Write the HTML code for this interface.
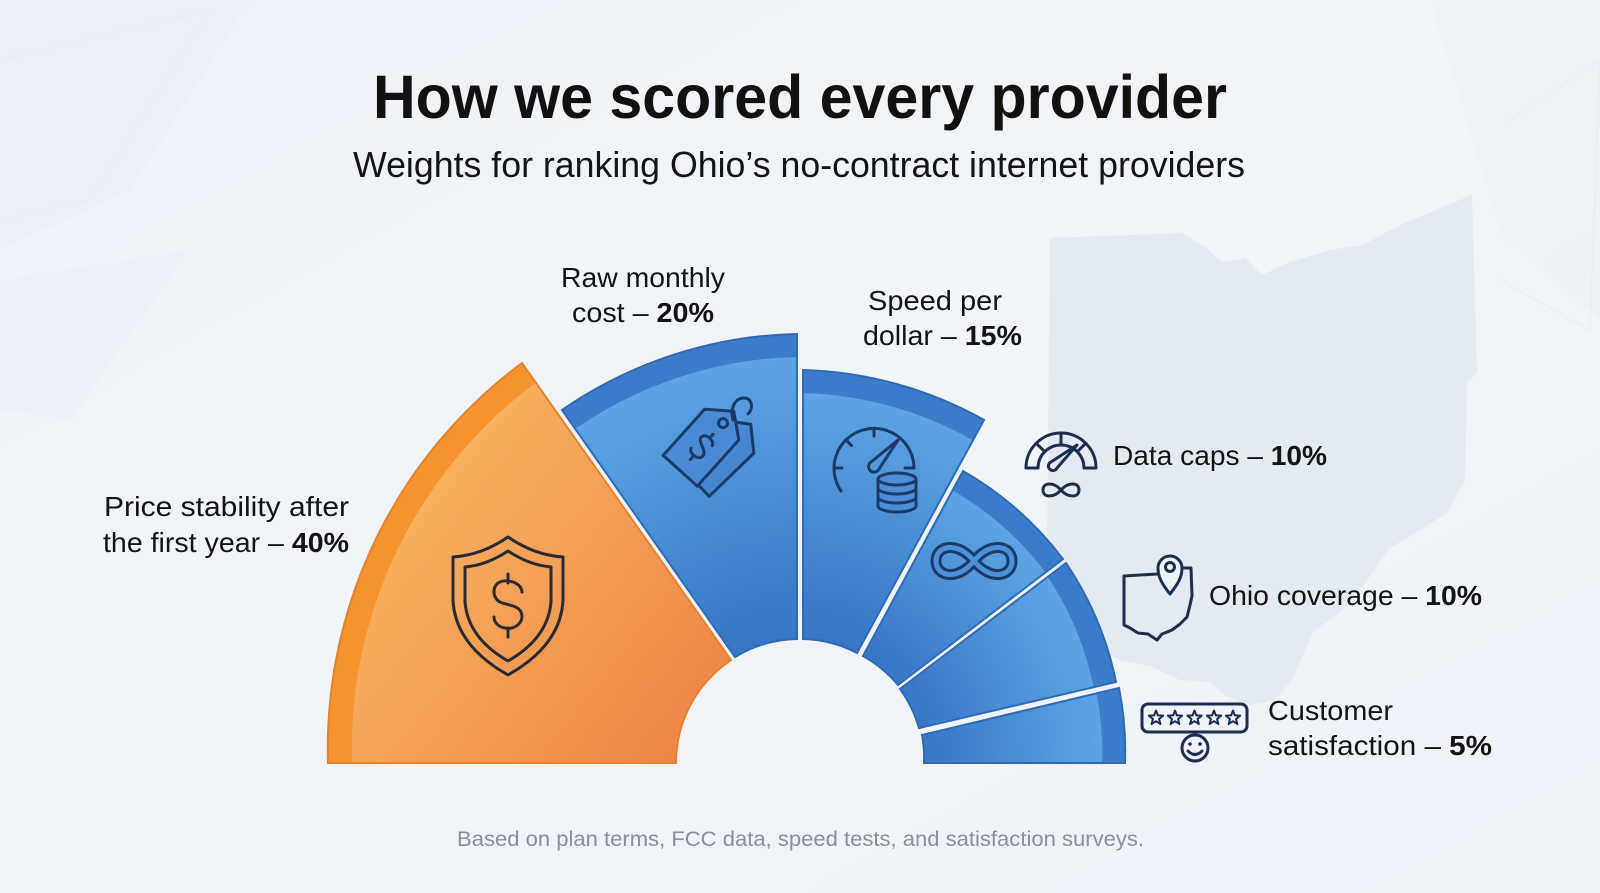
<!DOCTYPE html>
<html>
<head>
<meta charset="utf-8">
<style>
html,body{margin:0;padding:0;background:#eff3f8;width:1600px;height:893px;overflow:hidden;}
svg{display:block}
text{font-family:"Liberation Sans",Arial,sans-serif;}
</style>
</head>
<body>
<svg width="1600" height="893" viewBox="0 0 1600 893" xmlns="http://www.w3.org/2000/svg">
<defs>
  <linearGradient id="bg" x1="0" y1="0" x2="1" y2="1">
    <stop offset="0" stop-color="#eef2f7"/>
    <stop offset="0.5" stop-color="#f1f4f9"/>
    <stop offset="1" stop-color="#eef2f7"/>
  </linearGradient>
  <linearGradient id="og" x1="0.1" y1="0.2" x2="1" y2="0.9">
    <stop offset="0" stop-color="#f8ba63"/>
    <stop offset="1" stop-color="#ee8346"/>
  </linearGradient>
  <radialGradient id="b1" gradientUnits="userSpaceOnUse" cx="800" cy="763" r="406">
    <stop offset="0.3" stop-color="#3676c4"/>
    <stop offset="1" stop-color="#5ca4e4"/>
  </radialGradient>
  <radialGradient id="b2" gradientUnits="userSpaceOnUse" cx="800" cy="763" r="369">
    <stop offset="0.33" stop-color="#3676c4"/>
    <stop offset="1" stop-color="#5ca4e4"/>
  </radialGradient>
  <radialGradient id="b3" gradientUnits="userSpaceOnUse" cx="800" cy="763" r="311">
    <stop offset="0.4" stop-color="#3777c5"/>
    <stop offset="1" stop-color="#5ca4e4"/>
  </radialGradient>
  <radialGradient id="b4" gradientUnits="userSpaceOnUse" cx="800" cy="763" r="305">
    <stop offset="0.4" stop-color="#3777c5"/>
    <stop offset="1" stop-color="#5ca4e4"/>
  </radialGradient>
  <path id="p1" d="M328 763 A480 480 0 0 1 522 363 L731 660 A124 124 0 0 0 676 763 Z"/>
  <path id="p2" d="M562 410 A429 429 0 0 1 797 334 L797 639 A124 124 0 0 0 735 657 Z"/>
  <path id="p3" d="M803 370 A392 392 0 0 1 984 420 L857 653 A124 124 0 0 0 803 639 Z"/>
  <path id="p4" d="M963 471 A334 334 0 0 1 1063 559 L898 685 A124 124 0 0 0 863 656 Z"/>
  <path id="p5" d="M1066 563 A330 330 0 0 1 1116 682 L919 728 A124 124 0 0 0 900 689 Z"/>
  <path id="p6" d="M1119 688 A326 326 0 0 1 1125 763 L924 763 A124 124 0 0 0 922 735 Z"/>
  <clipPath id="c1"><use href="#p1"/></clipPath>
  <clipPath id="c2"><use href="#p2"/></clipPath>
  <clipPath id="c3"><use href="#p3"/></clipPath>
  <clipPath id="c4"><use href="#p4"/></clipPath>
  <clipPath id="c5"><use href="#p5"/></clipPath>
  <clipPath id="c6"><use href="#p6"/></clipPath>
</defs>

<!-- background -->
<rect x="0" y="0" width="1600" height="893" fill="url(#bg)"/>
<polygon points="0,0 250,0 130,190 0,250" fill="#e8edf4" opacity="0.35"/>
<polygon points="0,280 190,250 70,420 0,410" fill="#e8edf4" opacity="0.3"/>
<polyline points="0,60 210,10 90,200 0,220" fill="none" stroke="#e0e6ee" stroke-width="1.2" opacity="0.45"/>
<polygon points="1430,0 1600,0 1600,320 1500,230" fill="#e8edf4" opacity="0.35"/>
<polyline points="1510,120 1600,60 1590,330 1500,280" fill="none" stroke="#dfe5ee" stroke-width="1.2" opacity="0.45"/>

<!-- Ohio silhouette -->
<polygon fill="#e2e8f1" opacity="0.85" points="1050,238 1182,233 1205,247 1222,262 1245,258 1262,275 1290,262 1330,250 1363,245 1400,225 1472,195 1477,373 1467,382 1465,480 1447,513 1420,530 1390,548 1360,590 1340,612 1313,632 1292,680 1275,700 1250,705 1226,696 1210,682 1180,680 1150,666 1120,660 1098,650 1070,612 1047,563"/>

<!-- title -->
<text x="373" y="118" font-size="61" font-weight="700" fill="#111" textLength="854" lengthAdjust="spacingAndGlyphs">How we scored every provider</text>
<text x="353" y="177" font-size="36" fill="#151515" textLength="892" lengthAdjust="spacingAndGlyphs">Weights for ranking Ohio’s no-contract internet providers</text>

<!-- segment 1 orange -->
<use href="#p1" fill="url(#og)"/>
<path d="M328 763 A480 480 0 0 1 522 363" fill="none" stroke="#f5942e" stroke-width="48" stroke-linecap="square" clip-path="url(#c1)"/>
<use href="#p1" fill="none" stroke="#e5822b" stroke-width="2"/>

<!-- segment 2 -->
<use href="#p2" fill="url(#b1)"/>
<path d="M562 410 A429 429 0 0 1 797 334" fill="none" stroke="#3b7dca" stroke-width="46" stroke-linecap="square" clip-path="url(#c2)"/>
<use href="#p2" fill="none" stroke="#2e6bb6" stroke-width="2"/>

<!-- segment 3 -->
<use href="#p3" fill="url(#b2)"/>
<path d="M803 370 A392 392 0 0 1 984 420" fill="none" stroke="#3b7dca" stroke-width="46" stroke-linecap="square" clip-path="url(#c3)"/>
<use href="#p3" fill="none" stroke="#2e6bb6" stroke-width="2"/>

<!-- segment 4 -->
<use href="#p4" fill="url(#b3)"/>
<path d="M963 471 A334 334 0 0 1 1063 559" fill="none" stroke="#3b7dca" stroke-width="44" stroke-linecap="square" clip-path="url(#c4)"/>
<use href="#p4" fill="none" stroke="#2e6bb6" stroke-width="2"/>

<!-- segment 5 -->
<use href="#p5" fill="url(#b4)"/>
<path d="M1066 563 A330 330 0 0 1 1116 682" fill="none" stroke="#3b7dca" stroke-width="46" stroke-linecap="square" clip-path="url(#c5)"/>
<use href="#p5" fill="none" stroke="#2e6bb6" stroke-width="2"/>

<!-- segment 6 -->
<use href="#p6" fill="url(#b4)"/>
<path d="M1119 688 A326 326 0 0 1 1125 763" fill="none" stroke="#3b7dca" stroke-width="46" stroke-linecap="square" clip-path="url(#c6)"/>
<use href="#p6" fill="none" stroke="#2e6bb6" stroke-width="2"/>

<!-- shield icon -->
<g fill="none" stroke="#2a2a32" stroke-width="3" stroke-linejoin="round" stroke-linecap="round">
  <path d="M508 537 Q482 555 453 557 L453 600 Q455 645 508 675 Q561 645 563 600 L563 557 Q534 555 508 537 Z"/>
  <path d="M508 551 Q487 565 465 567 L465 602 Q468 638 508 661 Q548 638 551 602 L551 567 Q529 565 508 551 Z"/>
  <path d="M508 574 L508 583 M508 628 L508 637"/>
  <path d="M522 592 C521 582 507 579 500 582 C492 585 492 598 500 602 C506 605 518 605 521 612 C525 622 515 630 505 628 C498 627 494 622 494 617"/>
</g>

<!-- tag icon -->
<g fill="none" stroke="#1c3a66" stroke-width="3" stroke-linejoin="round" stroke-linecap="round">
  <g transform="translate(722,452) rotate(-44)">
    <path d="M-40 -23 L22 -23 L40 0 L22 23 L-40 23 Z" fill="#4787d2"/>
  </g>
  <g transform="translate(707,441) rotate(-48)">
    <path d="M-40 -23 L22 -23 L40 0 L22 23 L-40 23 Z" fill="#4a8bd5"/>
    <circle cx="24" cy="0" r="4.5"/>
    <g transform="rotate(90) translate(0,8)">
      <path d="M0 -17 L0 -13 M0 13 L0 17"/>
      <path d="M7 -8 C6 -13 -6 -14 -7 -7 C-7 -1 7 -1 7 6 C7 13 -6 13 -7 8"/>
    </g>
  </g>
  <path d="M733 420 C730 410 734 398 744 398 C752 398 754 408 748 414"/>
</g>

<!-- speed gauge + coins -->
<g fill="none" stroke="#1c3a66" stroke-width="3" stroke-linejoin="round" stroke-linecap="round">
  <path d="M841 491 A40 40 0 1 1 914 468"/>
  <path d="M834 468 L842 468 M874 428 L874 436 M845.7 439.7 L851.4 445.4 M914 468 L905 468"/>
  <path d="M898 440 L871 462 A5.5 5.5 0 1 0 879 469 Z"/>
  <path d="M878 479 L878 506 A19 6 0 0 0 916 506 L916 479" fill="#4b8dd6"/>
  <ellipse cx="897" cy="479" rx="19" ry="6" fill="#4b8dd6"/>
  <path d="M878 488 A19 6 0 0 0 916 488 M878 497 A19 6 0 0 0 916 497"/>
</g>

<!-- double infinity in segment 4 -->
<path d="M974 561 C990 541,1012 545,1012 561 C1012 577,990 581,974 561 C958 541,936 545,936 561 C936 577,958 581,974 561 Z" fill="none" stroke="#1c3a66" stroke-width="11"/>
<path d="M974 561 C990 541,1012 545,1012 561 C1012 577,990 581,974 561 C958 541,936 545,936 561 C936 577,958 581,974 561 Z" fill="none" stroke="#4b8fd8" stroke-width="5"/>

<!-- Data caps icon -->
<g fill="none" stroke="#1c2f4f" stroke-width="3" stroke-linejoin="round" stroke-linecap="round">
  <path d="M1026 468 A35 35 0 0 1 1096 468 L1084 468 A23 23 0 0 0 1038 468 Z"/>
  <path d="M1061 445 L1061 433 M1044.7 451.7 L1036.3 443.3 M1077.3 451.7 L1085.7 443.3"/>
  <path d="M1077 445 L1051 462 A4.5 4.5 0 1 0 1057 468 Z"/>
  <path d="M1061 490 C1068 482,1079 482,1079 490 C1079 498,1068 498,1061 490 C1054 482,1043 482,1043 490 C1043 498,1054 498,1061 490 Z"/>
</g>

<!-- Ohio coverage icon -->
<g fill="none" stroke="#1c2f4f" stroke-width="3" stroke-linejoin="round" stroke-linecap="round">
  <path d="M1157 574 L1124 576 L1124 625 L1130 628 L1138 633 L1148 634 L1157 640 L1162 634 L1172 630 L1180 624 L1187 617 L1190 605 L1192 596 L1191 568 L1184 568"/>
  <path d="M1170 594 C1162 584 1158 577 1158 568 A12 12 0 0 1 1182 568 C1182 577 1178 584 1170 594 Z" fill="#eef2f7"/>
  <circle cx="1170" cy="567" r="4.5"/>
</g>

<!-- Customer satisfaction icon -->
<g fill="none" stroke="#1c2f4f" stroke-width="3" stroke-linejoin="round" stroke-linecap="round">
  <rect x="1142" y="704" width="105" height="28" rx="6"/>
  <circle cx="1195" cy="748" r="13"/>
  <path d="M1188 751 Q1195 758 1202 751"/>
</g>
<g fill="none" stroke="#1c2f4f" stroke-width="2" stroke-linejoin="round">
  <polygon transform="translate(1156,718)" points="0,-7.5 1.88,-2.59 7.13,-2.32 3.04,0.99 4.41,6.07 0,3.2 -4.41,6.07 -3.04,0.99 -7.13,-2.32 -1.88,-2.59"/>
  <polygon transform="translate(1175,718)" points="0,-7.5 1.88,-2.59 7.13,-2.32 3.04,0.99 4.41,6.07 0,3.2 -4.41,6.07 -3.04,0.99 -7.13,-2.32 -1.88,-2.59"/>
  <polygon transform="translate(1194.5,718)" points="0,-7.5 1.88,-2.59 7.13,-2.32 3.04,0.99 4.41,6.07 0,3.2 -4.41,6.07 -3.04,0.99 -7.13,-2.32 -1.88,-2.59"/>
  <polygon transform="translate(1214,718)" points="0,-7.5 1.88,-2.59 7.13,-2.32 3.04,0.99 4.41,6.07 0,3.2 -4.41,6.07 -3.04,0.99 -7.13,-2.32 -1.88,-2.59"/>
  <polygon transform="translate(1233,718)" points="0,-7.5 1.88,-2.59 7.13,-2.32 3.04,0.99 4.41,6.07 0,3.2 -4.41,6.07 -3.04,0.99 -7.13,-2.32 -1.88,-2.59"/>
</g>
<circle cx="1190" cy="744" r="1.8" fill="#1c2f4f"/>
<circle cx="1200" cy="744" r="1.8" fill="#1c2f4f"/>

<!-- labels -->
<g fill="#141414" font-size="28">
  <text x="104" y="516" textLength="245" lengthAdjust="spacingAndGlyphs">Price stability after</text>
  <text x="103" y="552" textLength="246" lengthAdjust="spacingAndGlyphs">the first year – <tspan font-weight="700">40%</tspan></text>

  <text x="561" y="287" textLength="164" lengthAdjust="spacingAndGlyphs">Raw monthly</text>
  <text x="572" y="322" textLength="142" lengthAdjust="spacingAndGlyphs">cost – <tspan font-weight="700">20%</tspan></text>

  <text x="868" y="310" textLength="134" lengthAdjust="spacingAndGlyphs">Speed per</text>
  <text x="863" y="345" textLength="159" lengthAdjust="spacingAndGlyphs">dollar – <tspan font-weight="700">15%</tspan></text>

  <text x="1113" y="465" textLength="214" lengthAdjust="spacingAndGlyphs">Data caps – <tspan font-weight="700">10%</tspan></text>

  <text x="1209" y="605" textLength="273" lengthAdjust="spacingAndGlyphs">Ohio coverage – <tspan font-weight="700">10%</tspan></text>

  <text x="1268" y="720" textLength="125" lengthAdjust="spacingAndGlyphs">Customer</text>
  <text x="1268" y="755" textLength="224" lengthAdjust="spacingAndGlyphs">satisfaction – <tspan font-weight="700">5%</tspan></text>
</g>

<!-- footer -->
<text x="457" y="846" font-size="21" fill="#8a9099" textLength="687" lengthAdjust="spacingAndGlyphs">Based on plan terms, FCC data, speed tests, and satisfaction surveys.</text>
</svg>
</body>
</html>
